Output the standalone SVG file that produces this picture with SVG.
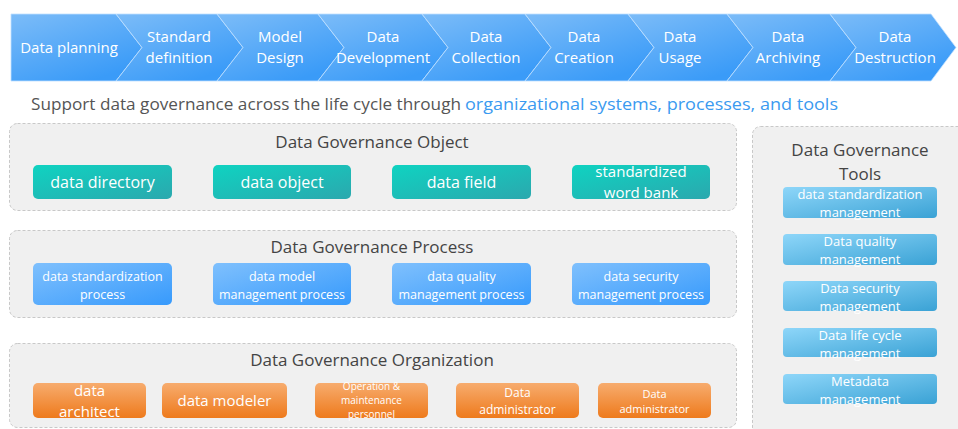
<svg xmlns="http://www.w3.org/2000/svg" width="958" height="429" viewBox="0 0 958 429">
<defs>
<linearGradient id="gChev" x1="0" y1="0" x2="0.6" y2="1"><stop offset="0" stop-color="#7cbcf8"/><stop offset="1" stop-color="#3a9bf8"/></linearGradient>
<linearGradient id="gTeal" x1="0" y1="0" x2="1" y2="1"><stop offset="0" stop-color="#0fd3c1"/><stop offset="1" stop-color="#2ba8ae"/></linearGradient>
<linearGradient id="gBlue" x1="0" y1="0" x2="1" y2="1"><stop offset="0" stop-color="#7fc0fd"/><stop offset="1" stop-color="#379afc"/></linearGradient>
<linearGradient id="gOrange" x1="0" y1="0" x2="0" y2="1"><stop offset="0" stop-color="#f7ac6e"/><stop offset="1" stop-color="#ee7a1c"/></linearGradient>
<linearGradient id="gTool" x1="0" y1="0" x2="1" y2="1"><stop offset="0" stop-color="#8ed6f9"/><stop offset="1" stop-color="#3aa2d5"/></linearGradient>
</defs>
<style>
text{font-family:"Open Sans","Noto Sans","Liberation Sans",sans-serif;}
.chev{fill:url(#gChev);stroke:#bfe0ff;stroke-width:0.8;}
.ct{fill:#fff;font-size:15px;text-anchor:middle;}
.panel{fill:#f0f0f0;stroke:#c8c8c8;stroke-width:1;stroke-dasharray:3 2;}
.ptitle{fill:#444;font-size:17px;text-anchor:middle;}
.teal{fill:url(#gTeal);}
.blue{fill:url(#gBlue);}
.orange{fill:url(#gOrange);}
.tool{fill:url(#gTool);}
.bt{fill:#fff;text-anchor:middle;}
</style>
<rect width="958" height="429" fill="#fff"/>
<g id="lifecycle">
<polygon class="chev" points="11,14 116,14 142,47.5 116,81 11,81"/>
<polygon class="chev" points="116,14 217,14 243,47.5 217,81 116,81 142,47.5"/>
<polygon class="chev" points="217,14 318,14 344,47.5 318,81 217,81 243,47.5"/>
<polygon class="chev" points="318,14 422,14 448,47.5 422,81 318,81 344,47.5"/>
<polygon class="chev" points="422,14 525,14 551,47.5 525,81 422,81 448,47.5"/>
<polygon class="chev" points="525,14 628,14 654,47.5 628,81 525,81 551,47.5"/>
<polygon class="chev" points="628,14 727,14 753,47.5 727,81 628,81 654,47.5"/>
<polygon class="chev" points="727,14 830,14 856,47.5 830,81 727,81 753,47.5"/>
<polygon class="chev" points="830,14 931,14 956,47.5 931,81 830,81 856,47.5"/>
<text class="ct" x="69" y="53" font-size="15.5">Data planning</text>
<text class="ct" x="179" y="42">Standard</text><text class="ct" x="179" y="63">definition</text>
<text class="ct" x="280" y="42">Model</text><text class="ct" x="280" y="63">Design</text>
<text class="ct" x="383" y="42">Data</text><text class="ct" x="383" y="63">Development</text>
<text class="ct" x="486" y="42">Data</text><text class="ct" x="486" y="63">Collection</text>
<text class="ct" x="584" y="42">Data</text><text class="ct" x="584" y="63">Creation</text>
<text class="ct" x="680" y="42">Data</text><text class="ct" x="680" y="63">Usage</text>
<text class="ct" x="788" y="42">Data</text><text class="ct" x="788" y="63">Archiving</text>
<text class="ct" x="895" y="42">Data</text><text class="ct" x="895" y="63">Destruction</text>
</g>
<g id="subtitle">
<text x="31" y="110" font-size="17" fill="#555" textLength="430" lengthAdjust="spacingAndGlyphs">Support data governance across the life cycle through</text>
<text x="465" y="110" font-size="17" fill="#3a9af0" textLength="373" lengthAdjust="spacingAndGlyphs">organizational systems, processes, and tools</text>
</g>
<g id="object-panel">
<rect class="panel" x="9.5" y="123.5" width="727" height="87" rx="8"/>
<text class="ptitle" x="372" y="148">Data Governance Object</text>
<g id="obj-directory"><rect class="teal" x="33" y="165" width="139" height="34" rx="5"/><text class="bt" x="102.5" y="188" font-size="16">data directory</text></g>
<g id="obj-object"><rect class="teal" x="213" y="165" width="138" height="34" rx="5"/><text class="bt" x="282" y="188" font-size="16">data object</text></g>
<g id="obj-field"><rect class="teal" x="392" y="165" width="139" height="34" rx="5"/><text class="bt" x="461.5" y="188" font-size="16">data field</text></g>
<g id="obj-wordbank"><rect class="teal" x="572" y="165" width="138" height="34" rx="5"/><text class="bt" x="641" y="177" font-size="15">standardized</text><text class="bt" x="641" y="198" font-size="15">word bank</text></g>
</g>
<g id="process-panel">
<rect class="panel" x="9.5" y="230.5" width="727" height="87" rx="8"/>
<text class="ptitle" x="372" y="253">Data Governance Process</text>
<g id="proc-std"><rect class="blue" x="33" y="263" width="139" height="42" rx="5"/><text class="bt" x="102.5" y="281" font-size="12.5">data standardization</text><text class="bt" x="102.5" y="298.5" font-size="12.5">process</text></g>
<g id="proc-model"><rect class="blue" x="213" y="263" width="138" height="42" rx="5"/><text class="bt" x="282" y="281" font-size="12.5">data model</text><text class="bt" x="282" y="298.5" font-size="12.5">management process</text></g>
<g id="proc-quality"><rect class="blue" x="392" y="263" width="139" height="42" rx="5"/><text class="bt" x="461.5" y="281" font-size="12.5">data quality</text><text class="bt" x="461.5" y="298.5" font-size="12.5">management process</text></g>
<g id="proc-security"><rect class="blue" x="572" y="263" width="138" height="42" rx="5"/><text class="bt" x="641" y="281" font-size="12.5">data security</text><text class="bt" x="641" y="298.5" font-size="12.5">management process</text></g>
</g>
<g id="org-panel">
<rect class="panel" x="9.5" y="343.5" width="727" height="84" rx="8"/>
<text class="ptitle" x="372" y="366">Data Governance Organization</text>
<g id="org-architect"><rect class="orange" x="33" y="383" width="113" height="35" rx="5"/><text class="bt" x="89.5" y="396" font-size="15">data</text><text class="bt" x="89.5" y="416.5" font-size="15">architect</text></g>
<g id="org-modeler"><rect class="orange" x="162" y="383" width="125" height="35" rx="5"/><text class="bt" x="224.5" y="406" font-size="15">data modeler</text></g>
<g id="org-ops"><rect class="orange" x="315" y="383" width="113" height="35" rx="5"/><text class="bt" x="371.5" y="389.5" font-size="10">Operation &amp;</text><text class="bt" x="371.5" y="403.5" font-size="10">maintenance</text><text class="bt" x="371.5" y="417.5" font-size="10">personnel</text></g>
<g id="org-admin1"><rect class="orange" x="456" y="383" width="123" height="35" rx="5"/><text class="bt" x="517.5" y="397" font-size="12">Data</text><text class="bt" x="517.5" y="413.5" font-size="12">administrator</text></g>
<g id="org-admin2"><rect class="orange" x="598" y="383" width="113" height="35" rx="5"/><text class="bt" x="654.5" y="397.5" font-size="11">Data</text><text class="bt" x="654.5" y="412.5" font-size="11">administrator</text></g>
</g>
<g id="tools-panel">
<rect class="panel" x="752.5" y="126.5" width="230" height="320" rx="8"/>
<text class="ptitle" x="860" y="156">Data Governance</text>
<text class="ptitle" x="860" y="179.5">Tools</text>
<g id="tool-std"><rect class="tool" x="783" y="187" width="154" height="31" rx="4"/><text class="bt" x="860" y="199" font-size="13">data standardization</text><text class="bt" x="860" y="217" font-size="13">management</text></g>
<g id="tool-quality"><rect class="tool" x="783" y="234" width="154" height="31" rx="4"/><text class="bt" x="860" y="246" font-size="13">Data quality</text><text class="bt" x="860" y="264" font-size="13">management</text></g>
<g id="tool-security"><rect class="tool" x="783" y="281" width="154" height="30" rx="4"/><text class="bt" x="860" y="293" font-size="13">Data security</text><text class="bt" x="860" y="311" font-size="13">management</text></g>
<g id="tool-lifecycle"><rect class="tool" x="783" y="328" width="154" height="29" rx="4"/><text class="bt" x="860" y="340" font-size="13">Data life cycle</text><text class="bt" x="860" y="358" font-size="13">management</text></g>
<g id="tool-metadata"><rect class="tool" x="783" y="374" width="154" height="30" rx="4"/><text class="bt" x="860" y="386" font-size="13">Metadata</text><text class="bt" x="860" y="404" font-size="13">management</text></g>
</g>
</svg>
